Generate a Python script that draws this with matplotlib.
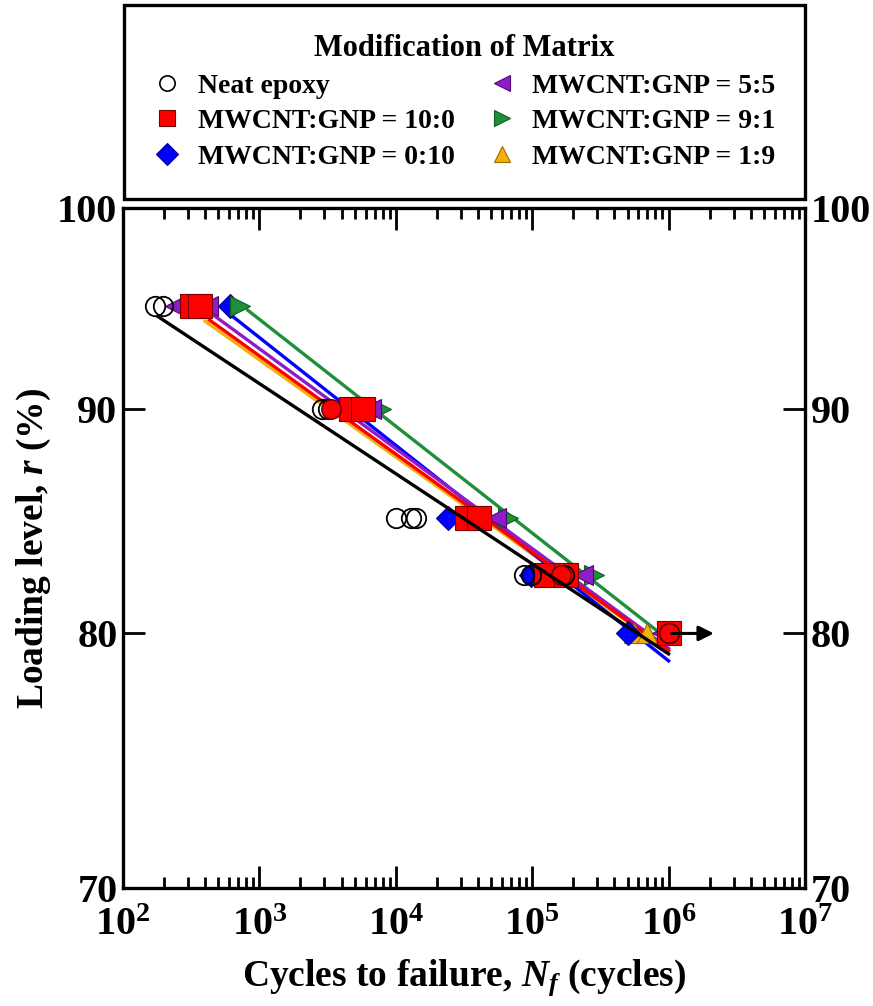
import numpy as np
import matplotlib.pyplot as plt
from matplotlib.ticker import FixedLocator, NullLocator, FuncFormatter, LogLocator
from matplotlib.lines import Line2D

plt.rcParams['font.family'] = ['Liberation Serif', 'DejaVu Serif']
plt.rcParams['font.weight'] = 'bold'
plt.rcParams['axes.labelweight'] = 'bold'
plt.rcParams['mathtext.fontset'] = 'custom'
plt.rcParams['mathtext.rm'] = 'Liberation Serif:bold'
plt.rcParams['mathtext.bf'] = 'Liberation Serif:bold'
plt.rcParams['mathtext.it'] = 'Liberation Serif:italic:bold'

# fatigue data: cycles to failure vs loading level (%)
neat_N = [172, 197, 2900, 3200, 10000, 12900, 14000, 87000, 98000, 170000, 1000000]
neat_r = [95, 95, 90, 90, 85, 85, 85, 82.5, 82.5, 82.5, 80]

cnt_N = [322, 368, 4700, 5700, 33000, 40500, 126000, 177000, 1000000]
cnt_r = [95, 95, 90, 90, 85, 85, 82.5, 82.5, 80]

gnp_N = [612, 5000, 24000, 98000, 508000]
gnp_r = [95, 90, 85, 82.5, 80]

mix55_N = [240, 420, 6600, 54000, 237000, 900000]
mix55_r = [95, 95, 90, 85, 82.5, 80]

mix91_N = [725, 7800, 66000, 286000, 1000000]
mix91_r = [95, 90, 85, 82.5, 80]

mix19_N = [350, 5000, 37000, 150000, 560000, 700000]
mix19_r = [95, 90, 85, 82.5, 80, 80]

# filled circles drawn on top of the neat epoxy points
red_circ_N = [3330, 163000, 1000000]
red_circ_r = [90, 82.5, 80]

# runout: 10^6 cycles without failure
runout_N = 1000000
runout_r = 80
runout_to = 2250000

# Basquin fits r = A * N^b, drawn from first point up to 10^6 cycles
fit_A = {'neat': 105.1, 'cnt': 108.0, 'gnp': 110.7, 'mix55': 108.7, 'mix91': 111.6, 'mix19': 107.6}
fit_b = {'neat': -0.02053, 'cnt': -0.02237, 'gnp': -0.02455, 'mix55': -0.02276, 'mix91': -0.02434, 'mix19': -0.02213}
fit_N0 = {'neat': 180, 'cnt': 430, 'gnp': 640, 'mix55': 470, 'mix91': 820, 'mix19': 400}
fit_N1 = 1000000

fig = plt.figure(figsize=(8.73, 10.06), dpi=100)
ax = fig.add_axes([0.1409, 0.1173, 0.7812, 0.6759])

series = [
    ('mix19', mix19_N, mix19_r, '^', '#F5B00F', '#9C6A00', 15, r'MWCNT:GNP = 1:9'),
    ('gnp', gnp_N, gnp_r, 'D', '#0000FF', '#00008B', 12, r'MWCNT:GNP = 0:10'),
    ('mix91', mix91_N, mix91_r, '>', '#1F8F3A', '#0F5A20', 15, r'MWCNT:GNP = 9:1'),
    ('mix55', mix55_N, mix55_r, '<', '#8E1CC8', '#4B0A70', 15, r'MWCNT:GNP = 5:5'),
    ('cnt', cnt_N, cnt_r, 's', '#FF0000', '#7A0000', 17, r'MWCNT:GNP = 10:0'),
]

handles = {}
for key, N, r, mk, fc, ec, ms, lab in series:
    nn = np.logspace(np.log10(fit_N0[key]), np.log10(fit_N1), 50)
    ax.plot(nn, fit_A[key] * nn ** fit_b[key], color=fc, lw=2.4, zorder=2)
    ax.plot(N, r, ls='none', marker=mk, ms=ms, mfc=fc, mec=ec, mew=0.8, zorder=3)
    handles[key] = Line2D([], [], ls='none', marker=mk, ms=11, mfc=fc, mec=ec, mew=0.8, label=lab)

ax.plot(neat_N, neat_r, ls='none', marker='o', ms=14, mfc='none', mec='black', mew=1.3, zorder=4)
ax.plot(red_circ_N, red_circ_r, ls='none', marker='o', ms=14, mfc='#FF0000', mec='#5A0000', mew=1.0, zorder=4)
nn = np.logspace(np.log10(fit_N0['neat']), np.log10(fit_N1), 50)
ax.plot(nn, fit_A['neat'] * nn ** fit_b['neat'], color='black', lw=2.4, zorder=5)
handles['neat'] = Line2D([], [], ls='none', marker='o', ms=11, mfc='white', mec='black', mew=1.2, label='Neat epoxy')

ax.annotate('', xy=(runout_to, runout_r), xytext=(runout_N, runout_r),
            arrowprops=dict(arrowstyle='-|>,head_length=0.9,head_width=0.45', color='black', lw=2.2),
            zorder=6)

ax.set_xscale('log')
ax.set_yscale('log')
ax.set_xlim(1e2, 1e7)
ax.set_ylim(70, 100)

ax.xaxis.set_major_locator(LogLocator(base=10, numticks=10))
ax.xaxis.set_minor_locator(LogLocator(base=10, subs=np.arange(2, 10), numticks=20))
ax.xaxis.set_major_formatter(FuncFormatter(lambda v, p: r'$\mathbf{10^{%d}}$' % round(np.log10(v))))
ax.yaxis.set_major_locator(FixedLocator([70, 80, 90, 100]))
ax.yaxis.set_minor_locator(NullLocator())
ax.yaxis.set_major_formatter(FuncFormatter(lambda v, p: '%d' % v))

ax.tick_params(which='both', direction='in', top=True, right=True, width=2.0)
ax.tick_params(which='major', length=16, labelsize=29)
ax.tick_params(which='minor', length=8)
ax.tick_params(axis='x', which='major', pad=14)
ax.tick_params(axis='y', which='major', pad=4, labelright=True)
for s in ax.spines.values():
    s.set_linewidth(2.4)

ax.set_xlabel(r'Cycles to failure, $N_f$ (cycles)', fontsize=27, labelpad=9)
ax.set_ylabel(r'Loading level, $r$ (%)', fontsize=27, labelpad=3)

order = ['neat', 'cnt', 'gnp', 'mix55', 'mix91', 'mix19']
leg = fig.legend([handles[k] for k in order], [handles[k].get_label() for k in order],
                 loc='upper left', bbox_to_anchor=(0.142, 0.995, 0.78, 0.0), mode='expand',
                 ncol=2, title='Modification of Matrix', fontsize=20, title_fontsize=22,
                 fancybox=False, edgecolor='black', framealpha=1, borderaxespad=0,
                 handlelength=1.0, handletextpad=0.6, labelspacing=0.36, columnspacing=0.5,
                 borderpad=1.05)
leg.get_frame().set_linewidth(2.4)
leg.get_title().set_fontweight('bold')

fig.savefig('out.png', dpi=100)
